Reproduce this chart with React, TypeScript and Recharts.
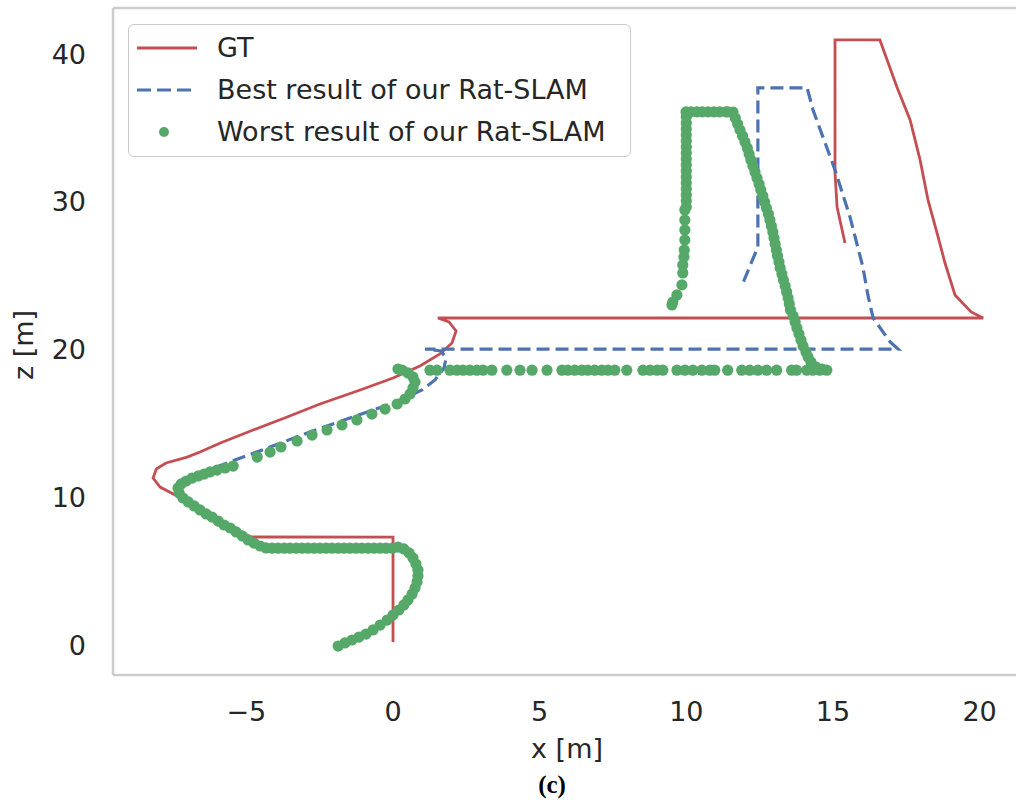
import React from 'react';
import { ScatterChart, Scatter, XAxis, YAxis, ReferenceLine } from 'recharts';

const RED = '#c44e52';
const BLUE = '#4c72b0';
const GREEN = '#55a868';
const FONT = '"DejaVu Sans", sans-serif';

const xTicks = [-5, 0, 5, 10, 15, 20];
const zTicks = [0, 10, 20, 30, 40];

// ground truth trajectory [x, z]
const gtPath: [number, number][] = [
  [0.0, 0.2], [0.0, 7.3], [-4.87, 7.31], [-6.07, 8.66], [-7.36, 10.08], [-7.94, 10.69],
  [-8.18, 11.3], [-8.07, 11.91], [-7.74, 12.32], [-7.02, 12.72], [-6.58, 13.06], [-5.89, 13.67],
  [-4.77, 14.55], [-3.61, 15.43], [-2.49, 16.31], [-1.12, 17.26], [0.0, 18.07], [0.92, 18.88],
  [1.6, 19.7], [2.01, 20.44], [2.15, 21.25], [1.91, 21.86], [1.53, 22.13], [20.12, 22.13],
  [19.71, 22.54], [19.16, 23.69], [18.82, 25.85], [18.55, 27.88], [18.24, 30.12], [17.97, 32.83],
  [17.63, 35.53], [17.18, 37.77], [16.6, 40.95], [15.07, 40.95], [15.07, 31.95], [15.14, 29.64],
  [15.41, 27.21],
];

// best run
const bestPath: [number, number][] = [
  [-7.26, 11.03], [-6.75, 11.51], [-5.56, 12.39], [-4.19, 13.4], [-2.83, 14.42], [-1.47, 15.36],
  [-0.27, 16.18], [0.41, 16.72], [0.99, 17.26], [1.43, 17.94], [1.74, 18.75], [1.81, 19.42],
  [1.64, 19.9], [1.09, 20.03], [17.22, 20.03], [16.95, 20.51], [16.37, 22.13], [16.19, 23.69],
  [16.02, 25.58], [15.58, 28.97], [15.07, 32.15], [14.32, 36.21], [14.12, 37.7], [12.44, 37.7],
  [12.44, 26.94], [11.93, 24.5],
];

// worst run, one entry per dot
const worstPoints: [number, number][] = [
  // bottom arc
  [-1.87, -0.07], [-1.64, 0.14], [-1.4, 0.34], [-1.16, 0.54], [-0.92, 0.74], [-0.68, 1.02],
  [-0.44, 1.35], [-0.2, 1.69], [0.0, 2.03], [0.2, 2.37], [0.37, 2.71], [0.51, 3.05],
  [0.65, 3.45], [0.75, 3.86], [0.82, 4.26], [0.85, 4.67], [0.85, 5.08], [0.78, 5.48],
  [0.68, 5.89], [0.55, 6.23], [0.37, 6.5], [0.17, 6.63],
  // lower straight
  [-0.03, 6.55], [-0.24, 6.55], [-0.44, 6.55], [-0.65, 6.55], [-0.85, 6.55], [-1.06, 6.55],
  [-1.26, 6.55], [-1.47, 6.55], [-1.67, 6.55], [-1.87, 6.55], [-2.08, 6.55], [-2.28, 6.55],
  [-2.49, 6.55], [-2.69, 6.55], [-2.9, 6.55], [-3.1, 6.55], [-3.3, 6.55], [-3.51, 6.55],
  [-3.71, 6.55], [-3.92, 6.55], [-4.12, 6.55], [-4.33, 6.57],
  // left turn
  [-4.53, 6.7], [-4.74, 6.9], [-4.94, 7.11], [-5.14, 7.38], [-5.35, 7.65], [-5.55, 7.92],
  [-5.76, 8.12], [-5.96, 8.39], [-6.17, 8.66], [-6.37, 8.87], [-6.58, 9.14], [-6.78, 9.41],
  [-6.98, 9.68], [-7.16, 9.95], [-7.29, 10.29], [-7.33, 10.63], [-7.22, 10.9], [-7.05, 11.1],
  [-6.85, 11.3], [-6.64, 11.44], [-6.44, 11.57], [-6.24, 11.71], [-6.0, 11.84], [-5.72, 11.98],
  [-5.45, 12.11],
  // sparse diagonal
  [-4.63, 12.72], [-4.19, 13.06], [-3.82, 13.4], [-3.27, 13.81], [-2.76, 14.21], [-2.25, 14.55],
  [-1.74, 14.89], [-1.23, 15.23], [-0.72, 15.63], [-0.27, 15.97], [0.14, 16.31],
  // hook
  [0.41, 16.65], [0.58, 16.99], [0.68, 17.39], [0.75, 17.8], [0.68, 18.14], [0.51, 18.41],
  [0.31, 18.61], [0.17, 18.68],
  // z = 18.6 straight
  [1.26, 18.6], [1.5, 18.6], [1.94, 18.6], [2.18, 18.6], [2.39, 18.6], [2.62, 18.6],
  [2.86, 18.6], [3.07, 18.6], [3.37, 18.6], [3.88, 18.6], [4.33, 18.6], [4.74, 18.6],
  [5.25, 18.6], [5.76, 18.6], [5.96, 18.6], [6.2, 18.6], [6.44, 18.6], [6.64, 18.6],
  [6.88, 18.6], [7.12, 18.6], [7.33, 18.6], [7.56, 18.6], [7.97, 18.6], [8.52, 18.6],
  [8.76, 18.6], [9.0, 18.6], [9.2, 18.6], [9.68, 18.6], [9.95, 18.6], [10.22, 18.6],
  [10.53, 18.6], [10.8, 18.6], [10.97, 18.6], [11.41, 18.6], [11.89, 18.6], [12.16, 18.6],
  [12.44, 18.6], [12.74, 18.6], [13.08, 18.6], [13.59, 18.6], [13.76, 18.6], [14.11, 18.6],
  [14.31, 18.6], [14.55, 18.6], [14.79, 18.6],
  // going up
  [14.63, 18.68], [14.42, 18.82], [14.25, 19.15], [14.15, 19.49], [14.08, 19.83], [13.98, 20.24],
  [13.91, 20.64], [13.84, 21.05], [13.77, 21.46], [13.71, 21.86], [13.64, 22.27], [13.55, 22.67],
  [13.51, 23.08], [13.47, 23.49], [13.42, 23.89], [13.37, 24.3], [13.31, 24.7], [13.26, 25.11],
  [13.2, 25.52], [13.16, 25.92], [13.11, 26.33], [13.07, 26.73], [13.03, 27.14], [12.99, 27.55],
  [12.95, 27.95], [12.9, 28.36], [12.85, 28.76], [12.8, 29.17], [12.73, 29.58], [12.67, 29.98],
  [12.61, 30.39], [12.54, 30.79], [12.48, 31.2], [12.41, 31.61], [12.34, 32.01], [12.27, 32.42],
  [12.2, 32.83], [12.14, 33.23], [12.08, 33.64], [12.0, 34.04], [11.92, 34.45], [11.83, 34.86],
  [11.75, 35.26], [11.67, 35.67], [11.59, 36.07],
  // top
  [11.42, 36.08], [11.35, 36.08], [11.14, 36.08], [10.94, 36.08], [10.74, 36.08], [10.54, 36.08],
  [10.36, 36.08], [10.16, 36.08], [9.99, 36.08],
  // left side down
  [10.0, 35.74], [10.0, 35.33], [10.0, 34.92], [10.0, 34.52], [10.0, 34.11], [10.0, 33.71],
  [10.0, 33.3], [10.0, 32.89], [10.0, 32.49], [10.0, 32.08], [10.0, 31.67], [10.0, 31.27],
  [10.0, 30.86], [10.0, 30.46], [10.0, 30.05], [10.0, 29.64], [9.95, 29.44], [9.95, 28.76],
  [9.95, 28.09], [9.95, 27.41], [9.93, 26.73], [9.92, 26.26], [9.88, 25.72], [9.88, 25.18],
  [9.85, 24.37], [9.68, 23.69], [9.54, 23.21], [9.51, 23.01],
];

const toRows = (pts: [number, number][]) => pts.map(([x, z]) => ({ x, z }));

const tickStyle = { fontSize: 27, fill: '#262626', fontFamily: FONT };
const frame = { stroke: '#cccccc', strokeWidth: 2.5 };

const fmt = (v: number) => (v < 0 ? `\u2212${Math.abs(v)}` : `${v}`);

const LegendBox = () => {
  const rows = [
    { label: 'GT', kind: 'line' },
    { label: 'Best result of our Rat-SLAM', kind: 'dash' },
    { label: 'Worst result of our Rat-SLAM', kind: 'dot' },
  ];
  return (
    <div
      style={{
        position: 'absolute', left: 128, top: 24, width: 503, height: 133,
        boxSizing: 'border-box', border: '1.5px solid #cccccc', borderRadius: 6,
        background: 'rgba(255,255,255,0.8)', fontFamily: FONT, fontSize: 27, color: '#262626',
      }}
    >
      {rows.map((r, i) => (
        <div key={r.label} style={{ position: 'absolute', left: 0, top: 3 + i * 42, height: 40, width: 500 }}>
          <svg width={60} height={40} style={{ position: 'absolute', left: 8, top: 0 }}>
            {r.kind === 'line' && <line x1={0} x2={60} y1={20} y2={20} stroke={RED} strokeWidth={2.8} />}
            {r.kind === 'dash' && (
              <line x1={0} x2={60} y1={20} y2={20} stroke={BLUE} strokeWidth={3.2} strokeDasharray="14 6" />
            )}
            {r.kind === 'dot' && <circle cx={27} cy={20} r={5} fill={GREEN} />}
          </svg>
          <span style={{ position: 'absolute', left: 88, top: 0, lineHeight: '40px', whiteSpace: 'nowrap' }}>
            {r.label}
          </span>
        </div>
      ))}
    </div>
  );
};

export default function App() {
  return (
    <div style={{ position: 'absolute', left: 0, top: 0, width: 1016, height: 802, overflow: 'hidden', background: '#fff' }}>
      <ScatterChart width={1030} height={802} margin={{ top: 8, right: 10, bottom: 0, left: 0 }}>
        <XAxis
          type="number"
          dataKey="x"
          domain={[-9.547, 21.377]}
          allowDataOverflow
          ticks={xTicks}
          interval={0}
          tickFormatter={fmt}
          tickLine={false}
          tickSize={0}
          tickMargin={27}
          axisLine={frame}
          tick={tickStyle}
          height={127}
        />
        <YAxis
          type="number"
          dataKey="z"
          domain={[-2.03, 43.11]}
          allowDataOverflow
          ticks={zTicks}
          interval={0}
          tickLine={false}
          tickSize={0}
          tickMargin={27}
          axisLine={frame}
          tick={tickStyle}
          width={113}
        />
        <ReferenceLine y={43.11} {...frame} ifOverflow="visible" />
        <Scatter
          data={toRows(gtPath)}
          line={{ stroke: RED, strokeWidth: 2.8 }}
          shape={() => <g />}
          isAnimationActive={false}
        />
        <Scatter
          data={toRows(bestPath)}
          line={{ stroke: BLUE, strokeWidth: 3.2, strokeDasharray: '13 6' }}
          shape={() => <g />}
          isAnimationActive={false}
        />
        <Scatter
          data={toRows(worstPoints)}
          shape={(p: any) => <circle cx={p.cx} cy={p.cy} r={5.6} fill={GREEN} />}
          isAnimationActive={false}
        />
      </ScatterChart>
      <LegendBox />
      <div style={{ position: 'absolute', left: 467, top: 729, width: 200, height: 40, lineHeight: '40px', textAlign: 'center', fontFamily: FONT, fontSize: 27, color: '#262626' }}>
        x [m]
      </div>
      <div style={{ position: 'absolute', left: -76, top: 325, width: 200, height: 40, lineHeight: '40px', textAlign: 'center', fontFamily: FONT, fontSize: 27, color: '#262626', transform: 'rotate(-90deg)' }}>
        z [m]
      </div>
      <div style={{ position: 'absolute', left: 502, top: 768, width: 100, height: 34, lineHeight: '34px', textAlign: 'center', fontFamily: '"Liberation Serif", serif', fontWeight: 'bold', fontSize: 25, color: '#000' }}>
        (c)
      </div>
    </div>
  );
}
